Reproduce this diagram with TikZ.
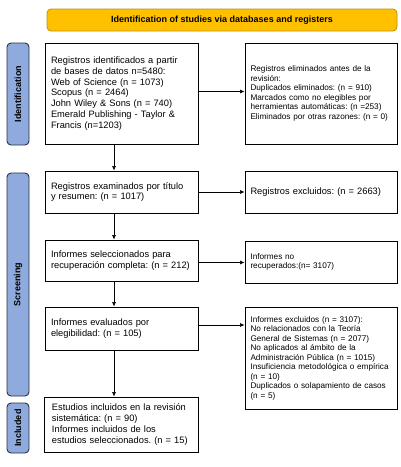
\documentclass[tikz,border=0pt]{standalone}
\usepackage{fontspec}
\setmainfont{Liberation Sans}
\usetikzlibrary{arrows.meta}
\frenchspacing
\hyphenpenalty=10000
\exhyphenpenalty=10000
\definecolor{banner}{RGB}{255,192,0}
\definecolor{bannerline}{RGB}{191,144,0}
\definecolor{sidefill}{RGB}{143,170,220}
\definecolor{sideline}{RGB}{40,50,70}
\tikzset{
  box/.style={draw=black, line width=0.9pt, rectangle, align=left, inner sep=0pt, anchor=center},
  bigtxt/.style={font=\fontsize{9.3}{10.7}\selectfont},
  smalltxt/.style={font=\fontsize{8.2}{9.5}\selectfont},
  side/.style={draw=sideline, fill=sidefill, line width=0.9pt, rounded corners=4pt, minimum width=22pt, inner sep=0pt},
  sidetxt/.style={rotate=90, font=\bfseries\fontsize{9}{10}\selectfont},
  arr/.style={draw=black, line width=0.6pt, -{Latex[length=4.5pt,width=4pt]}}
}
\begin{document}
\begin{tikzpicture}[x=1pt,y=-1pt]
\useasboundingbox (0,0) rectangle (401,467);
% banner
\node[draw=bannerline, fill=banner, line width=0.8pt, rounded corners=4pt, minimum width=350pt, minimum height=22pt, inner sep=0pt, font=\bfseries\fontsize{9}{10}\selectfont] (banner) at (222,20) {Identification of studies via databases and registers};
% side labels
\node[side, minimum height=102pt] (sid) at (18,94) {};
\node[sidetxt] (sidt) at (sid.center) {Identification};
\node[side, minimum height=223pt] (sscr) at (18,284.5) {};
\node[sidetxt] (sscrt) at (sscr.center) {Screening};
\node[side, minimum height=50pt] (sinc) at (18,428) {};
\node[sidetxt] (sinct) at (sinc.center) {Included};
% left boxes
\node[box, bigtxt, minimum width=153pt, minimum height=101pt, text width=141pt] (b1) at (121.5,93.5) {Registros identificados a partir\\de bases de datos n=5480:\\Web of Science (n = 1073)\\Scopus (n = 2464)\\John Wiley \& Sons (n = 740)\\Emerald Publishing - Taylor \&\\Francis (n=1203)};
\node[box, smalltxt, minimum width=152pt, minimum height=101pt, text width=141pt] (b2) at (321,93.5) {Registros eliminados antes de la\\revisión:\\Duplicados eliminados: (n = 910)\\Marcados como no elegibles por\\herramientas automáticas: (n =253)\\Eliminados por otras razones: (n = 0)};
\node[box, bigtxt, minimum width=153pt, minimum height=42pt, text width=141pt] (b3) at (121.5,192) {Registros examinados por título\\y resumen: (n = 1017)};
\node[box, bigtxt, minimum width=152pt, minimum height=42pt, text width=141pt] (b4) at (321,192) {Registros excluidos: (n = 2663)};
\node[box, bigtxt, minimum width=153pt, minimum height=41pt, text width=141pt] (b5) at (121.5,260.5) {Informes seleccionados para\\recuperación completa: (n = 212)};
\node[box, smalltxt, minimum width=152pt, minimum height=42pt, text width=141pt] (b6) at (321,262) {Informes no\\recuperados:(n= 3107)};
\node[box, bigtxt, minimum width=153pt, minimum height=43pt, text width=141pt] (b7) at (121.5,328.5) {Informes evaluados por\\elegibilidad: (n = 105)};
\node[box, smalltxt, minimum width=152pt, minimum height=102pt, text width=141pt] (b8) at (321,358) {Informes excluidos (n = 3107):\\No relacionados con la Teoría\\General de Sistemas (n = 2077)\\No aplicados al ámbito de la\\Administración Pública (n = 1015)\\Insuficiencia metodológica o empírica\\(n = 10)\\Duplicados o solapamiento de casos\\(n = 5)};
\node[box, bigtxt, minimum width=154pt, minimum height=55pt, text width=138pt] (b9) at (121,424.5) {Estudios incluidos en la revisión\\sistemática: (n = 90)\\Informes incluidos de los\\estudios seleccionados. (n = 15)};
% arrows
\draw[arr] ([yshift=2pt]b1.east) -- ([yshift=2pt]b1.east -| b2.west);
\draw[arr] (b3.east) -- (b3.east -| b4.west);
\draw[arr] ([yshift=-2pt]b5.east) -- ([yshift=-2pt]b5.east -| b6.west);
\draw[arr] ([yshift=3.5pt]b7.east) -- ([yshift=3.5pt]b7.east -| b8.west);
\draw[arr] ([xshift=-7.5pt]b1.south) -- ([xshift=-7.5pt]b1.south |- b3.north);
\draw[arr] ([xshift=-7.5pt]b3.south) -- ([xshift=-7.5pt]b3.south |- b5.north);
\draw[arr] ([xshift=-7.5pt]b5.south) -- ([xshift=-7.5pt]b5.south |- b7.north);
\draw[arr] ([xshift=-7.5pt]b7.south) -- ([xshift=-7.5pt]b7.south |- b9.north);
\end{tikzpicture}
\end{document}
